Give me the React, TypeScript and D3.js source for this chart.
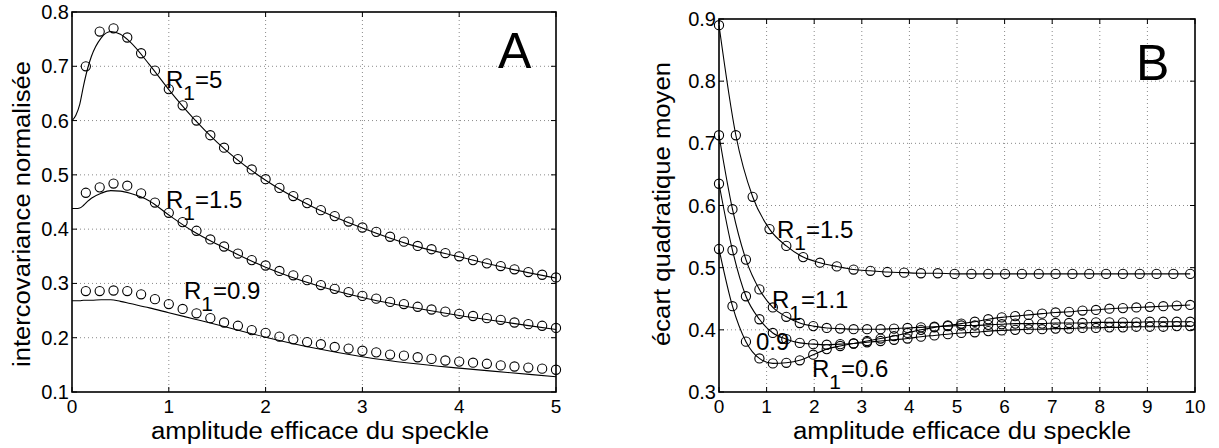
import React from 'react';
import * as d3 from 'd3';

// ---------- Panel A data ----------
const aXTicks = [0, 1, 2, 3, 4, 5];
const aYTicks = [0.1, 0.2, 0.3, 0.4, 0.5, 0.6, 0.7, 0.8];
const aYTickLabels = ['0.1', '0.2', '0.3', '0.4', '0.5', '0.6', '0.7', '0.8'];
const aCircleX = [0.143, 0.286, 0.429, 0.571, 0.714, 0.857, 1.0, 1.143, 1.286, 1.429, 1.571, 1.714, 1.857, 2.0, 2.143, 2.286, 2.429, 2.571, 2.714, 2.857, 3.0, 3.143, 3.286, 3.429, 3.571, 3.714, 3.857, 4.0, 4.143, 4.286, 4.429, 4.571, 4.714, 4.857, 5.0];
const aCircR5 = [0.700, 0.764, 0.770, 0.753, 0.724, 0.692, 0.658, 0.628, 0.600, 0.573, 0.550, 0.529, 0.510, 0.492, 0.476, 0.461, 0.448, 0.435, 0.424, 0.414, 0.403, 0.395, 0.386, 0.377, 0.369, 0.363, 0.356, 0.350, 0.343, 0.337, 0.332, 0.326, 0.321, 0.316, 0.311];
const aCircR15 = [0.467, 0.477, 0.484, 0.480, 0.466, 0.449, 0.430, 0.413, 0.397, 0.381, 0.368, 0.355, 0.343, 0.333, 0.323, 0.315, 0.306, 0.297, 0.290, 0.284, 0.277, 0.272, 0.266, 0.262, 0.257, 0.252, 0.248, 0.244, 0.240, 0.236, 0.233, 0.228, 0.225, 0.222, 0.218];
const aCircR09 = [0.286, 0.286, 0.287, 0.286, 0.280, 0.271, 0.262, 0.253, 0.245, 0.236, 0.228, 0.222, 0.214, 0.209, 0.202, 0.197, 0.192, 0.188, 0.183, 0.180, 0.176, 0.173, 0.169, 0.167, 0.164, 0.161, 0.158, 0.156, 0.154, 0.152, 0.149, 0.147, 0.145, 0.143, 0.141];
const aLineX = [0, 0.04, 0.08, 0.12, 0.16, 0.2, 0.3, 0.4, 0.5, 0.6, 0.8, 1.0, 1.25, 1.5, 2.0, 2.5, 3.0, 3.5, 4.0, 4.5, 5.0];
const aLineR5 = [0.600, 0.610, 0.630, 0.665, 0.695, 0.718, 0.752, 0.764, 0.759, 0.745, 0.703, 0.657, 0.605, 0.560, 0.490, 0.440, 0.402, 0.371, 0.349, 0.328, 0.310];
const aLineR15 = [0.438, 0.438, 0.439, 0.444, 0.451, 0.457, 0.466, 0.471, 0.470, 0.466, 0.452, 0.426, 0.396, 0.372, 0.330, 0.298, 0.274, 0.256, 0.241, 0.228, 0.215];
const aLineR09 = [0.268, 0.268, 0.268, 0.269, 0.269, 0.269, 0.270, 0.270, 0.267, 0.263, 0.255, 0.246, 0.235, 0.224, 0.201, 0.181, 0.165, 0.153, 0.144, 0.136, 0.128];

// ---------- Panel B data ----------
const bXTicks = [0, 1, 2, 3, 4, 5, 6, 7, 8, 9, 10];
const bYTicks = [0.3, 0.4, 0.5, 0.6, 0.7, 0.8, 0.9];
const bYTickLabels = ['0.3', '0.4', '0.5', '0.6', '0.7', '0.8', '0.9'];
const bX15 = [0, 0.354, 0.707, 1.061, 1.414, 1.768, 2.121, 2.475, 2.828, 3.182, 3.536, 3.889, 4.243, 4.596, 4.950, 5.303, 5.657, 6.010, 6.364, 6.718, 7.071, 7.425, 7.778, 8.132, 8.485, 8.839, 9.192, 9.546, 9.899];
const bR15 = [0.890, 0.713, 0.614, 0.562, 0.535, 0.517, 0.508, 0.502, 0.497, 0.495, 0.493, 0.492, 0.491, 0.491, 0.490, 0.490, 0.490, 0.490, 0.490, 0.490, 0.490, 0.490, 0.490, 0.490, 0.490, 0.490, 0.490, 0.490, 0.490];
const bX = [0, 0.283, 0.566, 0.849, 1.131, 1.414, 1.697, 1.980, 2.263, 2.546, 2.828, 3.111, 3.394, 3.677, 3.960, 4.243, 4.525, 4.808, 5.091, 5.374, 5.657, 5.940, 6.223, 6.505, 6.788, 7.071, 7.354, 7.637, 7.920, 8.202, 8.485, 8.768, 9.051, 9.334, 9.617, 9.899];
const bR11 = [0.713, 0.594, 0.513, 0.465, 0.436, 0.421, 0.411, 0.406, 0.403, 0.402, 0.401, 0.401, 0.401, 0.402, 0.403, 0.404, 0.405, 0.406, 0.407, 0.407, 0.408, 0.409, 0.410, 0.410, 0.410, 0.411, 0.411, 0.411, 0.412, 0.412, 0.412, 0.412, 0.413, 0.413, 0.413, 0.413];
const bR09 = [0.635, 0.528, 0.454, 0.417, 0.395, 0.385, 0.379, 0.377, 0.376, 0.377, 0.378, 0.380, 0.382, 0.384, 0.386, 0.389, 0.391, 0.393, 0.395, 0.396, 0.398, 0.399, 0.400, 0.401, 0.401, 0.402, 0.402, 0.403, 0.403, 0.404, 0.404, 0.405, 0.405, 0.405, 0.406, 0.406];
const bR06 = [0.530, 0.438, 0.381, 0.354, 0.346, 0.347, 0.351, 0.360, 0.369, 0.374, 0.378, 0.382, 0.386, 0.390, 0.395, 0.400, 0.404, 0.407, 0.410, 0.413, 0.417, 0.420, 0.422, 0.424, 0.426, 0.428, 0.429, 0.431, 0.432, 0.434, 0.435, 0.436, 0.437, 0.438, 0.439, 0.440];

const FONT = 'Liberation Sans, Arial, Helvetica, sans-serif';

type Series = { cx: number[]; cy: number[]; lx: number[]; ly: number[] };
type Label = { x: number; y: number; pre: string; sub: string; post: string };

type PanelProps = {
  left: number; top: number; right: number; bottom: number;
  xDomain: [number, number]; yDomain: [number, number];
  xTicks: number[]; yTicks: number[]; yTickLabels: string[];
  series: Series[];
  labels: Label[];
  letter: { x: number; y: number; text: string };
  yLabel: string; yLabelX: number; yLabelY: number; yLabelLen: number;
  xLabel: string; xLabelX: number; xLabelLen: number;
};

function Panel(p: PanelProps) {
  const x = d3.scaleLinear().domain(p.xDomain).range([p.left, p.right]);
  const y = d3.scaleLinear().domain(p.yDomain).range([p.bottom, p.top]);
  const line = d3.line<[number, number]>().x(d => x(d[0])).y(d => y(d[1])).curve(d3.curveMonotoneX);
  const tl = 5;
  return (
    <g>
      {p.xTicks.slice(1, -1).map((t, i) => (
        <line key={'gx' + i} x1={x(t)} x2={x(t)} y1={p.top} y2={p.bottom} stroke="#8a8a8a" strokeWidth={1} strokeDasharray="1,3" />
      ))}
      {p.yTicks.slice(1, -1).map((t, i) => (
        <line key={'gy' + i} x1={p.left} x2={p.right} y1={y(t)} y2={y(t)} stroke="#8a8a8a" strokeWidth={1} strokeDasharray="1,3" />
      ))}
      {p.xTicks.map((t, i) => (
        <g key={'tx' + i}>
          <line x1={x(t)} x2={x(t)} y1={p.bottom} y2={p.bottom - tl} stroke="#000" />
          <line x1={x(t)} x2={x(t)} y1={p.top} y2={p.top + tl} stroke="#000" />
          <text x={x(t)} y={p.bottom + 21} textAnchor="middle" fontSize={19} fontFamily={FONT}>{String(t)}</text>
        </g>
      ))}
      {p.yTicks.map((t, i) => (
        <g key={'ty' + i}>
          <line x1={p.left} x2={p.left + tl} y1={y(t)} y2={y(t)} stroke="#000" />
          <line x1={p.right} x2={p.right - tl} y1={y(t)} y2={y(t)} stroke="#000" />
          <text x={p.left - 3} y={y(t) + 7} textAnchor="end" fontSize={20} fontFamily={FONT}>{p.yTickLabels[i]}</text>
        </g>
      ))}
      {p.series.map((s, i) => (
        <g key={'s' + i}>
          <path d={line(s.lx.map((v, j) => [v, s.ly[j]] as [number, number])) || ''} fill="none" stroke="#000" strokeWidth={1.1} />
          {s.cx.map((v, j) => (
            <circle key={j} cx={x(v)} cy={y(s.cy[j])} r={4.6} fill="none" stroke="#000" strokeWidth={1.1} />
          ))}
        </g>
      ))}
      <rect x={p.left} y={p.top} width={p.right - p.left} height={p.bottom - p.top} fill="none" stroke="#000" strokeWidth={1.6} />
      {p.labels.map((l, i) => (
        <text key={'l' + i} x={l.x} y={l.y} fontSize={24} fontFamily={FONT}>
          {l.pre}
          {l.sub ? <tspan fontSize={21} dy={12}>{l.sub}</tspan> : null}
          {l.sub ? <tspan dy={-12}>{l.post}</tspan> : <tspan>{l.post}</tspan>}
        </text>
      ))}
      <text x={p.letter.x} y={p.letter.y} fontSize={50} fontFamily={FONT}>{p.letter.text}</text>
      <text transform={`translate(${p.yLabelX},${p.yLabelY}) rotate(-90)`} textAnchor="middle" fontSize={23} fontFamily={FONT}
        textLength={p.yLabelLen} lengthAdjust="spacingAndGlyphs">{p.yLabel}</text>
      <text x={p.xLabelX} y={439} textAnchor="middle" fontSize={23} fontFamily={FONT}
        textLength={p.xLabelLen} lengthAdjust="spacingAndGlyphs">{p.xLabel}</text>
    </g>
  );
}

export default function App() {
  return (
    <svg width={1219} height={448} style={{ position: 'absolute', left: 0, top: 0, background: '#fff' }}>
      <rect x={0} y={0} width={1219} height={448} fill="#fff" />
      <Panel
        left={72} top={12} right={556} bottom={392}
        xDomain={[0, 5]} yDomain={[0.1, 0.8]}
        xTicks={aXTicks} yTicks={aYTicks} yTickLabels={aYTickLabels}
        series={[
          { cx: aCircleX, cy: aCircR5, lx: aLineX, ly: aLineR5 },
          { cx: aCircleX, cy: aCircR15, lx: aLineX, ly: aLineR15 },
          { cx: aCircleX, cy: aCircR09, lx: aLineX, ly: aLineR09 },
        ]}
        labels={[
          { x: 166, y: 88, pre: 'R', sub: '1', post: '=5' },
          { x: 166, y: 208, pre: 'R', sub: '1', post: '=1.5' },
          { x: 184, y: 299, pre: 'R', sub: '1', post: '=0.9' },
        ]}
        letter={{ x: 498, y: 68, text: 'A' }}
        yLabel="intercovariance normalisée" yLabelX={30} yLabelY={214} yLabelLen={306}
        xLabel="amplitude efficace du speckle" xLabelX={320} xLabelLen={338}
      />
      <Panel
        left={719} top={19} right={1195} bottom={392}
        xDomain={[0, 10]} yDomain={[0.3, 0.9]}
        xTicks={bXTicks} yTicks={bYTicks} yTickLabels={bYTickLabels}
        series={[
          { cx: bX15, cy: bR15, lx: bX15, ly: bR15 },
          { cx: bX, cy: bR11, lx: bX, ly: bR11 },
          { cx: bX, cy: bR09, lx: bX, ly: bR09 },
          { cx: bX, cy: bR06, lx: bX, ly: bR06 },
        ]}
        labels={[
          { x: 777, y: 238, pre: 'R', sub: '1', post: '=1.5' },
          { x: 772, y: 308, pre: 'R', sub: '1', post: '=1.1' },
          { x: 756, y: 350, pre: '', sub: '', post: '0.9' },
          { x: 812, y: 377, pre: 'R', sub: '1', post: '=0.6' },
        ]}
        letter={{ x: 1136, y: 80, text: 'B' }}
        yLabel="écart quadratique moyen" yLabelX={670} yLabelY={204} yLabelLen={284}
        xLabel="amplitude efficace du speckle" xLabelX={962} xLabelLen={338}
      />
    </svg>
  );
}
